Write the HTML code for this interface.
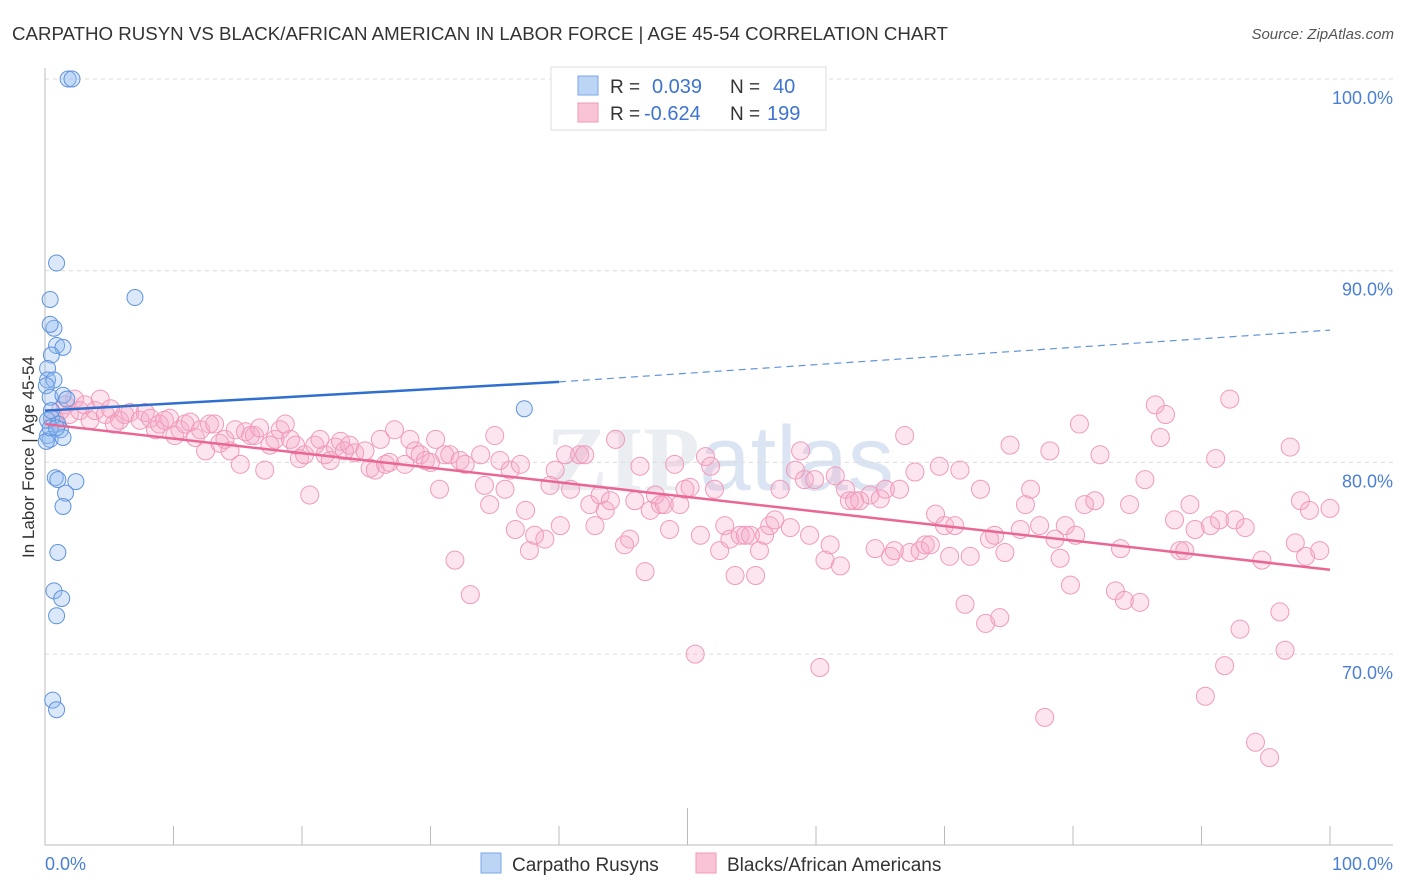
<!DOCTYPE html>
<html><head><meta charset="utf-8">
<style>
body{margin:0;background:#fff;font-family:"Liberation Sans",sans-serif;}
#wrap{position:relative;width:1406px;height:892px;overflow:hidden;}
</style></head>
<body>
<div id="wrap">
<svg id="chart" width="1406" height="892" xmlns="http://www.w3.org/2000/svg">
<text x="12" y="40" font-size="18.7" fill="#333">CARPATHO RUSYN VS BLACK/AFRICAN AMERICAN IN LABOR FORCE | AGE 45-54 CORRELATION CHART</text>
<text x="1394" y="39" font-size="15" fill="#555" font-style="italic" text-anchor="end">Source: ZipAtlas.com</text>
<text x="720" y="490" font-size="92" fill="#eaedf2" text-anchor="middle" font-family="Liberation Serif, serif"><tspan font-weight="bold">ZIP</tspan><tspan font-family="Liberation Sans, sans-serif" fill="#dbe4f2">atlas</tspan></text>
<g id="grid"></g>
<g id="axes"></g>
<g id="marks"></g>
<text transform="translate(34,457) rotate(-90)" font-size="17" fill="#333" text-anchor="middle">In Labor Force | Age 45-54</text>
<text x="45" y="870" font-size="18" fill="#4a7fd4">0.0%</text>
<text x="1393" y="870" font-size="18" fill="#4a7fd4" text-anchor="end">100.0%</text>
<g>
<rect x="551" y="67" width="275" height="63" fill="#fff" stroke="#ddd"/>
<rect x="578" y="76" width="20" height="19" fill="#bcd5f5" stroke="#7aa6e6"/>
<rect x="578" y="103" width="20" height="19" fill="#f9c5d6" stroke="#f09ab8"/>
<text x="610" y="93" font-size="19" fill="#333">R = </text><text x="652" y="93" font-size="20" fill="#3d74d1">0.039</text>
<text x="730" y="93" font-size="19" fill="#333">N = </text><text x="773" y="93" font-size="20" fill="#3d74d1">40</text>
<text x="610" y="120" font-size="19" fill="#333">R = </text><text x="644" y="120" font-size="20" fill="#3d74d1">-0.624</text>
<text x="730" y="120" font-size="19" fill="#333">N = </text><text x="767" y="120" font-size="20" fill="#3d74d1">199</text>
</g>
<g>
<rect x="481" y="853" width="20" height="20" fill="#bcd5f5" stroke="#7aa6e6"/>
<text x="512" y="871" font-size="19" fill="#333">Carpatho Rusyns</text>
<rect x="696" y="853" width="20" height="20" fill="#f9c5d6" stroke="#f09ab8"/>
<text x="727" y="871" font-size="19" fill="#333">Blacks/African Americans</text>
</g>
</svg>
</div>
<script>
const yTicks=[100,90,80,70];
const yTickLabels=["100.0%","90.0%","80.0%","70.0%"];
const blueX=[1.8,2.1,0.9,0.4,7.0,0.7,0.4,0.9,1.4,0.5,0.2,0.2,0.7,0.1,0.4,1.4,1.7,0.5,1.0,1.2,0.2,0.4,1.4,0.8,1.0,2.4,1.6,1.4,1.0,0.7,1.3,0.9,0.6,0.9,37.3,0.2,0.1,0.4,0.9,0.5];
const blueY=[100,100,90.4,88.5,88.6,87.0,87.2,86.1,86.0,85.6,84.9,84.3,84.3,84.0,83.4,83.5,83.3,82.3,82.0,81.7,81.4,81.2,81.3,79.2,79.1,79.0,78.4,77.7,75.3,73.3,72.9,72.0,67.6,67.1,82.8,82.2,81.1,81.8,81.8,82.7];
const pinkX=[0.8,1.2,1.6,1.9,2.3,2.7,3.1,3.5,3.9,4.3,4.7,5.1,5.4,5.8,6.2,6.6,7.4,7.8,8.2,8.6,8.9,9.3,9.7,10.1,10.5,10.9,11.3,11.7,12.1,12.5,12.8,13.2,13.6,14.0,14.4,14.8,15.2,15.6,16.0,16.3,16.7,17.1,17.5,17.9,18.3,18.7,19.1,19.5,19.8,20.2,20.6,21.0,21.4,21.8,22.2,22.6,23.0,23.3,23.7,24.1,24.9,25.3,25.7,26.1,26.5,26.8,27.2,28.0,28.4,28.8,29.2,29.6,30.0,30.4,30.7,31.1,31.5,31.9,32.3,32.7,33.1,33.9,34.2,34.6,35.0,35.4,35.8,36.2,36.6,37.0,37.4,37.7,38.1,38.9,39.3,39.7,40.1,40.5,40.9,41.6,42.0,42.4,42.8,43.2,43.6,44.0,44.4,45.1,45.5,45.9,46.3,46.7,47.1,47.5,47.9,48.2,48.6,49.0,49.4,49.8,50.2,50.6,51.0,51.4,51.8,52.1,52.5,52.9,53.3,53.7,54.1,54.5,54.9,55.3,55.6,56.0,56.4,56.8,57.2,58.0,58.4,58.8,59.1,59.5,59.9,60.3,60.7,61.1,61.5,61.9,62.3,62.6,63.0,63.4,64.2,64.6,65.0,65.4,65.8,66.1,66.5,66.9,67.3,67.7,68.1,68.5,68.9,69.3,69.6,70.0,70.4,70.8,71.2,71.6,72.0,72.8,73.2,73.5,73.9,74.3,74.7,75.1,75.9,76.3,76.7,77.4,77.8,78.2,78.6,79.0,79.4,79.8,80.2,80.5,80.9,81.7,82.1,83.3,83.7,84.0,84.4,85.2,85.6,86.4,86.8,87.2,87.9,88.3,88.7,89.1,89.5,90.3,90.7,91.1,91.4,91.8,92.2,92.6,93.0,93.4,94.2,94.7,95.3,96.1,96.5,96.9,97.3,97.7,98.1,98.4,99.2,100];
const pinkY=[82.2,82.7,83.0,82.5,83.3,82.7,83.0,82.2,82.7,83.3,82.5,82.8,82.0,82.2,82.5,82.6,82.2,82.6,82.3,81.7,82.0,82.2,82.3,81.4,81.7,82.0,82.1,81.3,81.7,80.6,82.0,82.0,81.0,81.2,80.6,81.7,79.9,81.6,81.4,81.4,81.8,79.6,80.9,81.2,81.7,82.0,81.2,80.9,80.2,80.4,78.3,80.9,81.2,80.4,80.1,80.8,81.1,80.6,80.9,80.5,80.6,79.7,79.6,81.2,79.9,80.0,81.7,79.9,81.2,80.6,80.4,80.1,80.0,81.2,78.6,80.4,80.4,74.9,80.1,79.9,73.1,80.4,78.8,77.8,81.4,80.1,78.6,79.6,76.5,79.9,77.5,75.4,76.2,76.0,78.8,79.6,76.7,80.4,78.6,80.4,80.4,77.8,76.7,78.3,77.5,78.0,81.2,75.7,76.0,78.0,79.8,74.3,77.5,78.3,77.8,77.8,76.5,79.9,77.8,78.6,78.7,70.0,76.2,80.3,79.8,78.6,75.4,76.7,76.0,74.1,76.2,76.2,76.2,74.1,75.4,76.2,76.7,77.0,78.6,76.6,79.6,80.6,79.1,76.2,79.1,69.3,74.9,75.7,79.3,74.6,78.6,78.0,78.0,78.0,78.3,75.5,78.1,78.6,75.1,75.4,78.6,81.4,75.3,79.5,75.4,75.7,75.7,77.3,79.8,76.7,75.1,76.7,79.6,72.6,75.1,78.6,71.6,76.0,76.2,71.9,75.3,80.9,76.5,77.8,78.6,76.7,66.7,80.6,76.0,75.0,76.7,73.6,76.2,82.0,77.8,78.0,80.4,73.3,75.5,72.8,77.8,72.7,79.1,83.0,81.3,82.5,77.0,75.4,75.4,77.8,76.5,67.8,76.7,80.2,77.0,69.4,83.3,77.0,71.3,76.6,65.4,74.9,64.6,72.2,70.2,80.8,75.8,78.0,75.1,77.5,75.4,77.6];
const blueTrend=[0,82.7,40,84.2,100,86.9];
const pinkTrend=[0,82.0,100,74.4];
const X0=45,X1=1330,Y100=79,PX10=191.7;
const xs=v=>X0+(X1-X0)*v/100;
const ys=v=>Y100+(100-v)*PX10/10;
const NS="http://www.w3.org/2000/svg";
function mk(tag,attrs,parent){const e=document.createElementNS(NS,tag);for(const k in attrs)e.setAttribute(k,attrs[k]);parent.appendChild(e);return e;}
const grid=document.getElementById('grid'),axes=document.getElementById('axes'),marks=document.getElementById('marks');
yTicks.forEach((t,i)=>{
 const l=mk('line',{x1:45,x2:1393,y1:ys(t),y2:ys(t),stroke:'#dcdcdc','stroke-dasharray':'4,4'},grid);
 
 
 const tx=mk('text',{x:1393,y:ys(t)+25,'font-size':18,fill:'#4a7fd4','text-anchor':'end'},axes);
 tx.textContent=yTickLabels[i];
 
 
});
const ax=mk('path',{d:'M45,68 V845 H1393',stroke:'#bbb',fill:'none'},axes);


for(let i=0;i<=10;i++){
 const x=xs(i*10);
 const tk=mk('line',{x1:x,x2:x,y1:i==5?808:826,y2:845,stroke:'#bbb'},axes);
 
 
}
for(let i=0;i<pinkX.length;i++){
 const c=mk('circle',{cx:xs(pinkX[i]),cy:ys(pinkY[i]),r:9,fill:'rgba(246,170,198,0.3)',stroke:'#f19abb','stroke-width':1},marks);
 
 
}
for(let i=0;i<blueX.length;i++){
 const c=mk('circle',{cx:xs(blueX[i]),cy:ys(blueY[i]),r:8,fill:'rgba(150,188,240,0.35)',stroke:'#5f93dd','stroke-width':1},marks);
 
 
}
const pl=mk('line',{x1:xs(pinkTrend[0]),y1:ys(pinkTrend[1]),x2:xs(pinkTrend[2]),y2:ys(pinkTrend[3]),stroke:'#ea6795','stroke-width':2.5},marks);


const bl=mk('line',{x1:xs(blueTrend[0]),y1:ys(blueTrend[1]),x2:xs(blueTrend[2]),y2:ys(blueTrend[3]),stroke:'#2f6fd0','stroke-width':2.5},marks);


const bd=mk('line',{x1:xs(blueTrend[2]),y1:ys(blueTrend[3]),x2:xs(blueTrend[4]),y2:ys(blueTrend[5]),stroke:'#5f93dd','stroke-width':1.2,'stroke-dasharray':'7,5'},marks);


</script>
</body></html>
